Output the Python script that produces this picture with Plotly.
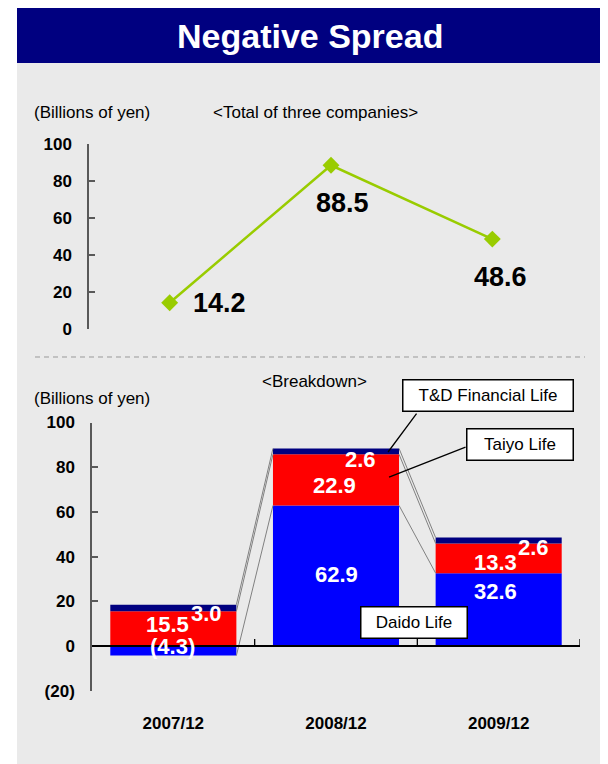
import plotly.graph_objects as go

# ---------------- data ----------------
categories = ["2007/12", "2008/12", "2009/12"]
total_values = [14.2, 88.5, 48.6]
daido_values = [-4.3, 62.9, 32.6]
taiyo_values = [15.5, 22.9, 13.3]
td_values = [3.0, 2.6, 2.6]
series_names = ["Daido Life", "Taiyo Life", "T&D Financial Life"]
top_tick_vals = [0, 20, 40, 60, 80, 100]
bottom_tick_vals = [-20, 0, 20, 40, 60, 80, 100]

# ---------------- style ----------------
PAGE_OFF = 8               # default body margin of the html page
W, H = 608 - PAGE_OFF, 764 - PAGE_OFF
FONT = "Arial, 'Liberation Sans', Helvetica, sans-serif"
NAVY = "#000080"
PANEL = "#EAEAEA"
LINE_GREEN = "#99CC00"
series_colors = ["#0000FF", "#FF0000", "#000080"]
BAR_W = 0.775
AXIS_COL = "#595959"


def px(x):
    return max(0.0, (x - PAGE_OFF) / W)


def py(y):
    return min(1.0, 1 - (y - PAGE_OFF) / H)


def fmt(v):
    return f"({abs(v):.1f})" if v < 0 else f"{v:.1f}"


def tick_txt(v):
    return f"({abs(v)})" if v < 0 else f"{v}"


fig = go.Figure()

# ---------------- top: line chart ----------------
xs = list(range(len(categories)))
fig.add_trace(go.Scatter(
    x=xs, y=total_values, mode="lines+markers",
    line=dict(color=LINE_GREEN, width=2.5),
    marker=dict(symbol="diamond", size=13, color=LINE_GREEN),
    xaxis="x", yaxis="y", hoverinfo="skip", showlegend=False, cliponaxis=False,
))

# ---------------- bottom: stacked bars ----------------
series = [daido_values, taiyo_values, td_values]
pos_acc = [0.0] * len(categories)
neg_acc = [0.0] * len(categories)
bases, ends = [], []
for vals in series:
    b, e = [], []
    for i, v in enumerate(vals):
        if v >= 0:
            b.append(pos_acc[i]); pos_acc[i] += v; e.append(pos_acc[i])
        else:
            b.append(neg_acc[i]); neg_acc[i] += v; e.append(neg_acc[i])
    bases.append(b); ends.append(e)

for vals, name, col in zip(series, series_names, series_colors):
    fig.add_trace(go.Bar(
        x=xs, y=vals, name=name, width=BAR_W,
        marker=dict(color=col, line=dict(width=0)),
        xaxis="x2", yaxis="y2", hoverinfo="skip", showlegend=False,
    ))

# series lines between bars
for s in range(len(series)):
    for i in range(len(categories) - 1):
        fig.add_trace(go.Scatter(
            x=[i + BAR_W / 2, i + 1 - BAR_W / 2],
            y=[ends[s][i], ends[s][i + 1]],
            mode="lines", line=dict(color="#808080", width=1),
            xaxis="x2", yaxis="y2", hoverinfo="skip", showlegend=False,
        ))

annotations = []

# title
annotations.append(dict(
    text="Negative Spread", xref="paper", yref="paper", x=px(310), y=py(36),
    xanchor="center", yanchor="middle",
    showarrow=False, font=dict(family=FONT, size=34, color="white", weight="bold"),
))

# headers
for txt, x, y, anchor in [
    ("(Billions of yen)", 32, 112, "left"),
    ("<Total of three companies>", 315, 112, "center"),
    ("(Billions of yen)", 32, 398, "left"),
    ("<Breakdown>", 314, 382, "center"),
]:
    annotations.append(dict(
        text=txt.replace("<", "&lt;").replace(">", "&gt;"), xref="paper", yref="paper",
        x=px(x), y=py(y), xanchor=anchor, yanchor="middle", showarrow=False,
        font=dict(family=FONT, size=17, color="black"),
    ))

# top value labels
top_dx = [50, 11, 8]
top_dy = [0, -38, -38]
for i, v in enumerate(total_values):
    annotations.append(dict(
        text=f"{v:.1f}", x=i, y=v, xref="x", yref="y", showarrow=False,
        xanchor="center", yanchor="middle",
        xshift=top_dx[i], yshift=top_dy[i],
        font=dict(family=FONT, size=27, color="black", weight="bold"),
    ))

# bar data labels
label_dx = [[-0.5, 0, -3.5], [-5.5, -2, -3.5], [33.5, 24, 34.5]]
label_dy = [[4, 1, 18], [4, -6, -4], [-5, -8, -6.5]]
for s, vals in enumerate(series):
    for i, v in enumerate(vals):
        annotations.append(dict(
            text=fmt(v), x=i, y=bases[s][i] + v / 2, xref="x2", yref="y2",
            xanchor="center", yanchor="middle",
            showarrow=False, xshift=label_dx[s][i], yshift=label_dy[s][i],
            font=dict(family=FONT, size=22, color="white", weight="bold"),
        ))

# callout boxes
for txt, cx, cy, bw in [
    ("T&D Financial Life", 488, 395.5, 167),
    ("Taiyo Life", 520, 444.5, 103),
    ("Daido Life", 414, 622.5, 103),
]:
    annotations.append(dict(
        text=txt.replace("&", "&amp;"), xref="paper", yref="paper", x=px(cx), y=py(cy),
        xanchor="center", yanchor="middle",
        showarrow=False, width=bw, height=28, bgcolor="white",
        bordercolor="black", borderwidth=1.5, borderpad=1,
        font=dict(family=FONT, size=17, color="black"),
    ))

# leader lines (T&D, Taiyo) pointing into the 2008/12 bar
leader_targets = [(1.32, ends[2][1] - 1.6, 29, -39), (1.326, 75.6, 77, -30)]
for x, y, ax, ay in leader_targets:
    annotations.append(dict(
        text=" ", x=x, y=y, xref="x2", yref="y2", ax=ax, ay=ay,
        showarrow=True, arrowhead=0, arrowwidth=1.3, arrowcolor="black",
        font=dict(size=1), borderpad=0,
    ))

shapes = [
    # panel and title bar
    dict(type="rect", xref="paper", yref="paper", x0=px(17), x1=1, y0=0, y1=py(63),
         fillcolor=PANEL, line=dict(width=0), layer="below"),
    dict(type="rect", xref="paper", yref="paper", x0=px(17), x1=1, y0=py(63), y1=py(7),
         fillcolor=NAVY, line=dict(width=0), layer="below"),
    # dashed separator
    dict(type="line", xref="paper", yref="paper", x0=px(35), x1=px(585), y0=py(357), y1=py(357),
         line=dict(color="#999999", width=1, dash="5px,4px")),
    # zero line of bottom chart
    dict(type="line", xref="x2", yref="y2", x0=-0.5, x1=len(categories) - 0.5, y0=0, y1=0,
         line=dict(color="black", width=1.8), layer="above"),
]
# category boundary ticks on the zero line
for b in [i + 0.5 for i in range(len(categories))]:
    shapes.append(dict(type="line", xref="x2", yref="y2", x0=b, x1=b,
                       ysizemode="pixel", yanchor=0, y0=0, y1=7,
                       line=dict(color="black", width=1.3), layer="above"))

tickfont = dict(family=FONT, size=17, color="black", weight="bold")

fig.update_layout(
    width=W, height=H, margin=dict(l=0, r=0, t=0, b=0),
    paper_bgcolor="white", plot_bgcolor="rgba(0,0,0,0)",
    barmode="relative", showlegend=False,
    annotations=annotations, shapes=shapes,
    xaxis=dict(domain=[px(89), px(573)], range=[-0.5, 2.5], visible=False, anchor="y",
               fixedrange=True),
    yaxis=dict(domain=[py(329), py(144)], range=[0, 100], anchor="x",
               tickvals=top_tick_vals, ticktext=[tick_txt(v) for v in top_tick_vals],
               ticks="inside", ticklen=6, tickwidth=1.5, tickcolor=AXIS_COL,
               showline=True, linecolor=AXIS_COL, linewidth=1.5,
               showgrid=False, zeroline=False, tickfont=tickfont,
               ticklabelstandoff=12, automargin=False, fixedrange=True),
    xaxis2=dict(domain=[px(92), px(580)], range=[-0.5, 2.5], anchor="y2",
                tickvals=xs, ticktext=categories, ticks="", showline=False,
                showgrid=False, zeroline=False, tickfont=tickfont,
                ticklabelstandoff=20, automargin=False, fixedrange=True),
    yaxis2=dict(domain=[py(690.7), py(422.5)], range=[-20, 100], anchor="x2",
                tickvals=bottom_tick_vals, ticktext=[tick_txt(v) for v in bottom_tick_vals],
                ticks="inside", ticklen=6, tickwidth=1.5, tickcolor=AXIS_COL,
                showline=True, linecolor=AXIS_COL, linewidth=1.5,
                showgrid=False, zeroline=False, tickfont=tickfont,
                ticklabelstandoff=12, automargin=False, fixedrange=True),
)

fig.write_html("out.html", config={"displayModeBar": False})
